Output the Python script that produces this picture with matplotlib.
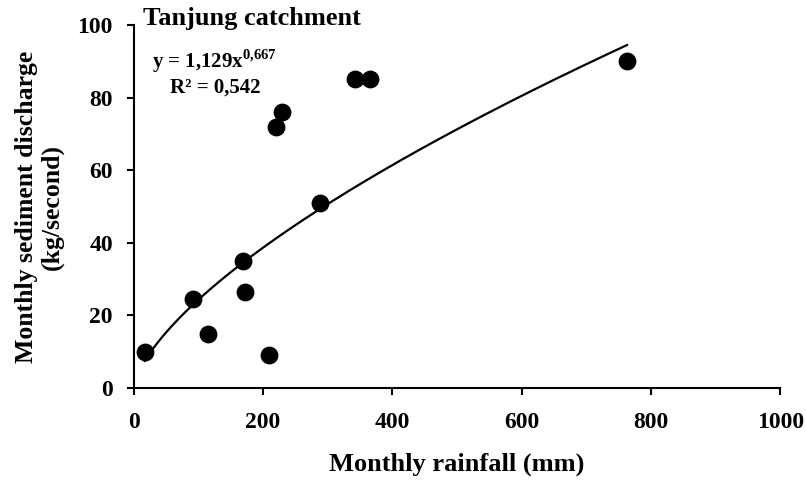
import numpy as np
import matplotlib.pyplot as plt

# monthly rainfall (mm) and sediment discharge (kg/second)
RAINFALL = [17, 91, 115, 169, 172, 209, 220, 229, 288, 342, 365, 763]
DISCHARGE = [10, 24.5, 15, 35, 26.5, 9, 72, 76, 51, 85, 85, 90]

# power trend fitted in the original: y = a * x^b
FIT_A = 1.129
FIT_B = 0.667

X_TICKS = [0, 200, 400, 600, 800, 1000]
Y_TICKS = [0, 20, 40, 60, 80, 100]


def main():
    plt.rcParams['font.family'] = ['Liberation Serif', 'DejaVu Serif']
    plt.rcParams['font.weight'] = 'bold'
    plt.rcParams['mathtext.fontset'] = 'custom'
    plt.rcParams['mathtext.rm'] = 'Liberation Serif:bold'
    plt.rcParams['mathtext.bf'] = 'Liberation Serif:bold'

    fig = plt.figure(figsize=(8.06, 4.9), dpi=100)
    ax = fig.add_axes([0.166, 0.208, 0.802, 0.741])

    xs = np.linspace(min(RAINFALL), max(RAINFALL), 200)
    ax.plot(xs, FIT_A * xs ** FIT_B, color='black', lw=1.6, zorder=2)
    ax.scatter(RAINFALL, DISCHARGE, s=140, color='black', zorder=3)

    ax.set_xlim(0, 1000)
    ax.set_ylim(0, 100)
    ax.set_xticks(X_TICKS)
    ax.set_yticks(Y_TICKS)
    ax.tick_params(direction='out', length=5, width=1.5, labelsize=17)
    ax.tick_params(axis='y', pad=10)
    ax.tick_params(axis='x', pad=12)
    for lab in ax.get_xticklabels() + ax.get_yticklabels():
        lab.set_fontweight('bold')

    for side in ['top', 'right']:
        ax.spines[side].set_visible(False)
    for side in ['left', 'bottom']:
        ax.spines[side].set_linewidth(1.5)

    ax.set_xlabel('Monthly rainfall (mm)', fontsize=19, fontweight='bold', labelpad=14)
    ax.set_ylabel('Monthly sediment discharge\n(kg/second)', fontsize=18.5,
                  fontweight='bold', labelpad=10, linespacing=1.1)

    fig.text(0.178, 0.962, 'Tanjung catchment', fontsize=19, fontweight='bold',
             va='center', ha='left')
    fig.text(0.188, 0.875, r'y = 1,129x$^{\mathrm{0{,}667}}$', fontsize=15,
             fontweight='bold', va='center', ha='left')
    fig.text(0.211, 0.822, 'R² = 0,542', fontsize=15, fontweight='bold',
             va='center', ha='left')

    fig.savefig('out.png', dpi=100)


if __name__ == '__main__':
    main()
